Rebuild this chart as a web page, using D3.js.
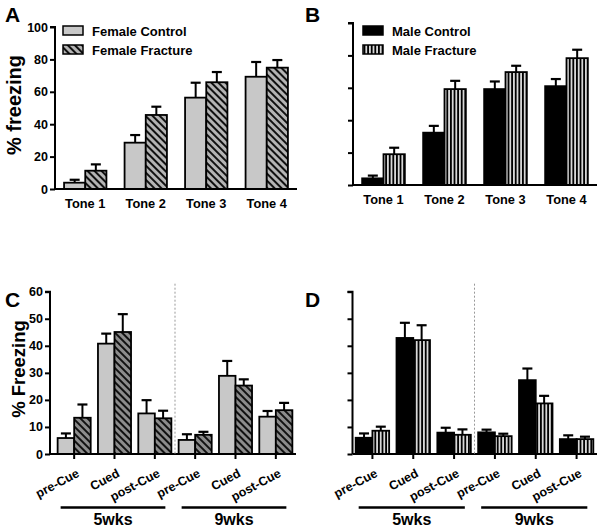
<!DOCTYPE html>
<html>
<head>
<meta charset="utf-8">
<script src="https://cdn.jsdelivr.net/npm/d3@7"></script>
<style>
  body { margin: 0; background: #fff; }
  text { font-family: Arial, "Liberation Sans", sans-serif; font-weight: bold; }
</style>
</head>
<body>
<svg id="fig" width="600" height="530"></svg>
<script>
// ---- data ----
var tones = ["Tone 1", "Tone 2", "Tone 3", "Tone 4"];
var femaleControl    = [3.9, 28.6, 56.4, 69.3];
var femaleControlErr = [1.8, 4.7, 9.2, 9.1];
var femaleFracture    = [11.3, 45.7, 65.9, 74.9];
var femaleFractureErr = [3.9, 5.1, 6.3, 4.7];
var maleControl    = [4.1, 32.3, 59.2, 61.0];
var maleControlErr = [1.7, 4.2, 4.7, 4.4];
var maleFracture    = [19.0, 59.2, 69.7, 78.3];
var maleFractureErr = [4.0, 5.1, 3.9, 5.2];

var phases = ["pre-Cue 5", "Cued 5", "post-Cue 5", "pre-Cue 9", "Cued 9", "post-Cue 9"];
var phaseLabels = ["pre-Cue", "Cued", "post-Cue", "pre-Cue", "Cued", "post-Cue"];
var weeks = ["5wks", "9wks"];
var cFemaleControl    = [5.9, 40.8, 15.0, 5.2, 28.9, 13.8];
var cFemaleControlErr = [1.7, 3.7, 4.9, 2.1, 5.5, 2.1];
var cFemaleFracture    = [13.4, 45.1, 13.2, 7.1, 25.3, 16.2];
var cFemaleFractureErr = [4.9, 6.6, 2.8, 1.1, 2.3, 2.7];
var dMaleControl    = [6.0, 42.9, 7.9, 8.0, 27.3, 5.5];
var dMaleControlErr = [1.6, 5.6, 1.8, 1.0, 4.3, 1.4];
var dMaleFracture    = [8.6, 42.1, 7.1, 6.6, 18.7, 5.5];
var dMaleFractureErr = [1.5, 5.5, 2.0, 0.9, 2.8, 0.9];

var ticksTone = [0, 20, 40, 60, 80, 100];
var ticksCue = [0, 10, 20, 30, 40, 50, 60];

var svg = d3.select("#fig");
var defs = svg.append("defs");

// hatch: gray with "\" stripes
function hatchPattern(id, bg) {
  var p = defs.append("pattern").attr("id", id)
    .attr("patternUnits", "userSpaceOnUse").attr("width", 5).attr("height", 5)
    .attr("patternTransform", "rotate(-45)");
  p.append("rect").attr("width", 5).attr("height", 5).attr("fill", bg);
  p.append("rect").attr("width", 2).attr("height", 5).attr("fill", "#111");
}
hatchPattern("hatch", "#b4b4b4");
hatchPattern("hatchDark", "#8c8c8c");

// vertical stripes
var vstripe = defs.append("pattern").attr("id", "vstripe")
  .attr("patternUnits", "userSpaceOnUse").attr("width", 3.6).attr("height", 4);
vstripe.append("rect").attr("width", 3.6).attr("height", 4).attr("fill", "#d8d8d8");
vstripe.append("rect").attr("width", 1.8).attr("height", 4).attr("fill", "#000");

var FEMALE_CTRL = "#c8c8c8";

function panel(o) {
  var g = svg.append("g");
  var x = d3.scaleBand().domain(o.cats).range(o.xr)
    .paddingInner(o.pi).paddingOuter(o.pi / 2);
  var sub = d3.scaleBand().domain([0, 1]).range([0, x.bandwidth()]);
  var y = d3.scaleLinear().domain(o.ydom).range(o.yr);

  // bars
  o.series.forEach(function(s, si) {
    var bg = g.append("g");
    s.vals.forEach(function(v, i) {
      var bx = x(o.cats[i]) + sub(si);
      var top = y(v), errTop = y(v + s.err[i]), cx = bx + sub.bandwidth() / 2;
      bg.append("line").attr("x1", cx).attr("x2", cx).attr("y1", top).attr("y2", errTop)
        .attr("stroke", "#000").attr("stroke-width", 2);
      bg.append("line").attr("x1", cx - 5).attr("x2", cx + 5).attr("y1", errTop).attr("y2", errTop)
        .attr("stroke", "#000").attr("stroke-width", 2.2);
      bg.append("rect").attr("x", bx).attr("y", top)
        .attr("width", sub.bandwidth()).attr("height", y(o.ydom[0]) - top)
        .attr("fill", s.fill).attr("stroke", "#000").attr("stroke-width", 1.8);
    });
  });

  // axes
  var ya = d3.axisLeft(y).tickValues(o.yticks).tickSize(5).tickPadding(2);
  if (!o.ylabels) ya.tickFormat("");
  g.append("g").attr("transform", "translate(" + o.axisX + ",0)").call(ya)
    .call(function(a) {
      a.select(".domain").attr("stroke-width", 2).attr("d", "M-5," + o.yr[1] + "H0V" + o.yr[0]);
      a.selectAll(".tick line").attr("stroke-width", 2);
      a.selectAll("text").attr("font-size", 12.5).attr("fill", "#000");
    });
  var xa = d3.axisBottom(x).tickSize(o.rot ? 5 : 0).tickPadding(4).tickFormat(function(d, i) { return o.labels[i]; });
  var gx = g.append("g").attr("transform", "translate(0," + o.yr[0] + ")").call(xa);
  gx.select(".domain").attr("stroke-width", 2).attr("d", "M" + o.axisX + ",0H" + o.xEnd);
  gx.selectAll(".tick line").attr("stroke-width", 2);
  gx.selectAll("text").attr("font-size", 12.8).attr("fill", "#000");
  if (o.rot) {
    gx.selectAll("text").attr("text-anchor", "end").attr("dy", null).attr("y", null)
      .attr("transform", "translate(6,22) rotate(-28)").attr("font-size", 12.5);
  } else {
    gx.selectAll("text").attr("dy", "1.15em");
  }

  // legend
  if (o.legend) {
    o.series.forEach(function(s, si) {
      var ly = o.legend[1] + si * 19;
      g.append("rect").attr("x", o.legend[0]).attr("y", ly).attr("width", 20).attr("height", 9)
        .attr("fill", s.fill).attr("stroke", "#000").attr("stroke-width", 1.5);
      g.append("text").attr("x", o.legend[0] + 29).attr("y", ly + 10).attr("font-size", 13).text(s.name);
    });
  }

  // divider and week groups
  if (o.weeks) {
    var mid = (x(o.cats[2]) + x.bandwidth() + x(o.cats[3])) / 2;
    g.append("line").attr("x1", mid).attr("x2", mid).attr("y1", o.yr[1] - 8).attr("y2", o.yr[0])
      .attr("stroke", "#999").attr("stroke-width", 1).attr("stroke-dasharray", "2,2");
    o.weeks.forEach(function(w, wi) {
      var x0 = x(o.cats[wi * 3]) + 3, x1 = x(o.cats[wi * 3 + 2]) + x.bandwidth() - 6;
      g.append("line").attr("x1", x0).attr("x2", x1).attr("y1", 507.5).attr("y2", 507.5)
        .attr("stroke", "#000").attr("stroke-width", 2.5);
      g.append("text").attr("x", (x0 + x1) / 2).attr("y", 525).attr("text-anchor", "middle")
        .attr("font-size", 16).text(w);
    });
  }

  if (o.ytitle) {
    g.append("text").attr("transform", "translate(" + o.ytitle[0] + "," + o.ytitle[1] + ") rotate(-90)")
      .attr("text-anchor", "middle").attr("font-size", o.ytitle[2]).text(o.ytitle[3]);
  }
  g.append("text").attr("x", o.letter[0]).attr("y", o.letter[1]).attr("font-size", 21).text(o.letter[2]);
}

panel({
  cats: tones, labels: tones, xr: [55, 297], pi: 0.3, axisX: 55, xEnd: 297,
  ydom: [0, 100], yr: [189, 27], yticks: ticksTone, ylabels: true,
  series: [
    {name: "Female Control", vals: femaleControl, err: femaleControlErr, fill: FEMALE_CTRL},
    {name: "Female Fracture", vals: femaleFracture, err: femaleFractureErr, fill: "url(#hatch)"}
  ],
  legend: [63, 26], ytitle: [21, 105, 20, "% freezing"], letter: [5, 22, "A"]
});

panel({
  cats: tones, labels: tones, xr: [353, 597], pi: 0.3, axisX: 353, xEnd: 597,
  ydom: [0, 100], yr: [185, 23], yticks: ticksTone, ylabels: false,
  series: [
    {name: "Male Control", vals: maleControl, err: maleControlErr, fill: "#000"},
    {name: "Male Fracture", vals: maleFracture, err: maleFractureErr, fill: "url(#vstripe)"}
  ],
  legend: [363, 26], letter: [305, 22, "B"]
});

panel({
  cats: phases, labels: phaseLabels, xr: [54, 296], pi: 0.18, axisX: 50, xEnd: 296, rot: true,
  ydom: [0, 60], yr: [454, 291.7], yticks: ticksCue, ylabels: true,
  series: [
    {name: "Female Control", vals: cFemaleControl, err: cFemaleControlErr, fill: FEMALE_CTRL},
    {name: "Female Fracture", vals: cFemaleFracture, err: cFemaleFractureErr, fill: "url(#hatchDark)"}
  ],
  weeks: weeks, ytitle: [25, 369, 18.5, "% Freezing"], letter: [5, 307, "C"]
});

panel({
  cats: phases, labels: phaseLabels, xr: [352, 597], pi: 0.18, axisX: 352.5, xEnd: 597, rot: true,
  ydom: [0, 60], yr: [454, 291.7], yticks: ticksCue, ylabels: false,
  series: [
    {name: "Male Control", vals: dMaleControl, err: dMaleControlErr, fill: "#000"},
    {name: "Male Fracture", vals: dMaleFracture, err: dMaleFractureErr, fill: "url(#vstripe)"}
  ],
  weeks: weeks, letter: [305, 307, "D"]
});
</script>
</body>
</html>
